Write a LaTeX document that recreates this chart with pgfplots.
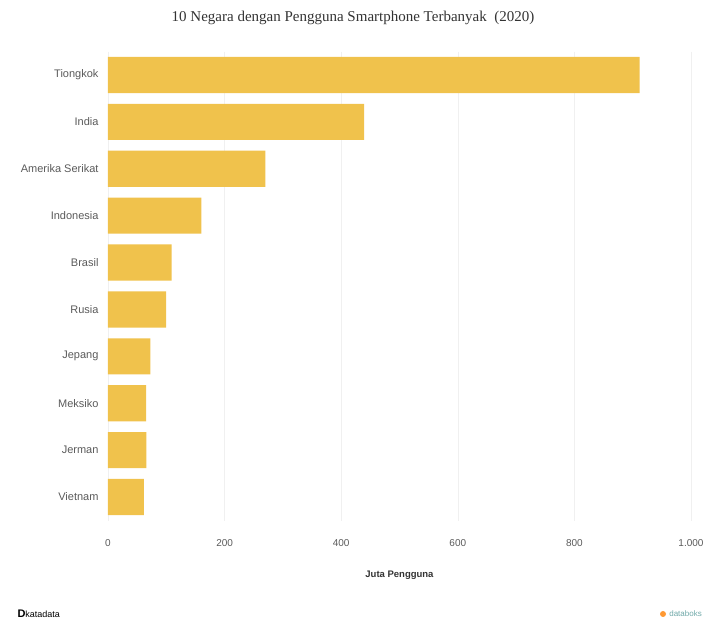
\documentclass[border=0pt]{standalone}
\usepackage{pgfplots}
\pgfplotsset{compat=1.18}
\usepackage{fontspec}
\setmainfont{Liberation Sans}
\newfontfamily\titlefont{Liberation Serif}
\definecolor{bargold}{HTML}{F0C24C}
\definecolor{lbl}{HTML}{5A5A5A}
\definecolor{gridc}{HTML}{F0F0F0}
\definecolor{teal}{HTML}{6FA8A8}
\begin{document}
\begin{tikzpicture}[x=1pt,y=1pt]
\path[use as bounding box] (0,0) rectangle (705,629);
\begin{axis}[
  at={(108pt,108.5pt)}, anchor=south west,
  scale only axis, width=583pt, height=469pt,
  xbar, bar width=0.77,
  xmin=0, xmax=1000,
  ymin=-0.5, ymax=9.5, y dir=reverse,
  ytick={0,...,9},
  yticklabels={Tiongkok,India,Amerika Serikat,Indonesia,Brasil,Rusia,Jepang,Meksiko,Jerman,Vietnam},
  xtick={0,200,400,600,800,1000},
  xticklabels={0,200,400,600,800,{1.000}},
  axis line style={draw=none},
  major tick length=0pt,
  xmajorgrids, grid style={gridc, line width=0.6pt},
  xticklabel style={font=\fontsize{10}{12}\selectfont, text=lbl, yshift=-15pt},
  yticklabel style={font=\fontsize{11}{13}\selectfont, text=lbl, xshift=-6pt},
  xlabel={\textbf{Juta Pengguna}},
  xlabel style={font=\fontsize{9.5}{11}\selectfont, text=black!80, yshift=-18pt},
]
\addplot[fill=bargold, draw=none] coordinates {
  (911.9,0) (439.4,1) (270.0,2) (160.2,3) (109.3,4) (99.9,5) (72.6,6) (65.6,7) (65.9,8) (61.4,9)};
\end{axis}
\node[font=\titlefont\fontsize{15}{17}\selectfont, text=black!80] at (353,611) {10 Negara dengan Pengguna Smartphone Terbanyak\ \ (2020)};
\node[anchor=west, font=\fontsize{11}{13}\selectfont] at (14,15) {\textbf{D}\fontsize{9}{11}\selectfont katadata};
\fill[orange!80] (663,15) circle (3);
\node[anchor=east, font=\fontsize{8}{10}\selectfont, text=teal, inner sep=0pt] at (702,15) {databoks};
\end{tikzpicture}
\end{document}
